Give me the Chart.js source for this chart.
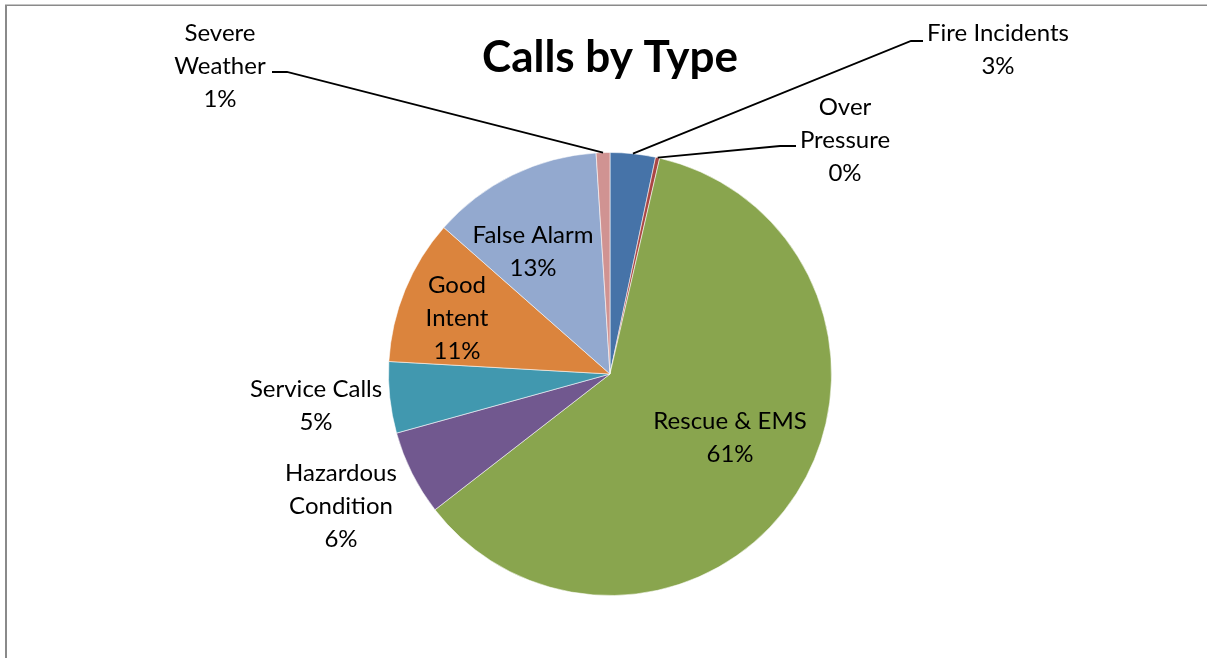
<!DOCTYPE html>
<html>
<head>
<meta charset="utf-8">
<script src="https://cdn.jsdelivr.net/npm/chart.js@4/dist/chart.umd.min.js"></script>
<style>
  html, body { margin: 0; padding: 0; background: #fff; }
  #wrap { width: 1207px; height: 658px; position: relative; }
</style>
</head>
<body>
<div id="wrap"><canvas id="c" width="1207" height="658"></canvas></div>
<script>
const title = 'Calls by Type';
const categories = ['Fire Incidents', 'Over Pressure', 'Rescue & EMS', 'Hazardous Condition', 'Service Calls', 'Good Intent', 'False Alarm', 'Severe Weather'];
const labelLines = [['Fire Incidents'], ['Over', 'Pressure'], ['Rescue & EMS'], ['Hazardous', 'Condition'], ['Service Calls'], ['Good', 'Intent'], ['False Alarm'], ['Severe', 'Weather']];
const values = [3.3, 0.3, 60.9, 6.2, 5.2, 10.6, 12.5, 1.0];
const colors = ['#4673A8', '#AA4643', '#89A54E', '#71588F', '#4198AF', '#DB843D', '#93A9CF', '#D09392'];

// label layout: block center relative to pie center (px), optional leader line knee/end
const labelLayout = [
  { dx: 388, dy: -325.5, leader: { knee: [301, -333], end: [313, -333] } },
  { dx: 235, dy: -235, leader: { knee: [170, -228], end: [186, -228] } },
  { dx: 120, dy: 62.5 },
  { dx: -269, dy: 131 },
  { dx: -294, dy: 30.5 },
  { dx: -153, dy: -57 },
  { dx: -77, dy: -123.5 },
  { dx: -390, dy: -309, leader: { knee: [-323, -302], end: [-338, -302] } }
];

const FONT = 'Lato, "Open Sans", sans-serif';
const LINE_H = 33;

const labelPlugin = {
  id: 'labels',
  beforeDraw(chart) {
    const ctx = chart.ctx;
    ctx.save();
    ctx.fillStyle = '#fff';
    ctx.fillRect(0, 0, chart.width, chart.height);
    ctx.strokeStyle = '#8a8a8a';
    ctx.lineWidth = 2;
    ctx.beginPath();
    ctx.moveTo(6, 5); ctx.lineTo(6, chart.height);
    ctx.stroke();
    ctx.lineWidth = 1.5;
    ctx.beginPath();
    ctx.moveTo(5, 5.25); ctx.lineTo(chart.width, 5.25);
    ctx.stroke();
    ctx.restore();
  },
  afterDatasetsDraw(chart) {
    const ctx = chart.ctx;
    const meta = chart.getDatasetMeta(0);
    const total = values.reduce((a, b) => a + b, 0);
    ctx.save();
    ctx.fillStyle = '#000';
    ctx.font = 'bold 44px ' + FONT;
    ctx.textAlign = 'center';
    ctx.textBaseline = 'alphabetic';
    const arc0 = meta.data[0];
    const cx = arc0.x, cy = arc0.y;
    ctx.fillText(title, cx, 72);

    ctx.font = '24px ' + FONT;
    meta.data.forEach((arc, i) => {
      const lay = labelLayout[i];
      const pct = Math.round(values[i] / total * 100) + '%';
      const lines = labelLines[i].concat([pct]);
      const bx = cx + lay.dx, by = cy + lay.dy;
      const top = by - (lines.length - 1) * LINE_H / 2;
      lines.forEach((t, k) => {
        ctx.fillText(t, bx, top + k * LINE_H + 8.5);
      });
      if (lay.leader) {
        const mid = (arc.startAngle + arc.endAngle) / 2;
        const r = arc.outerRadius;
        const sx = cx + Math.cos(mid) * r, sy = cy + Math.sin(mid) * r;
        ctx.strokeStyle = '#000';
        ctx.lineWidth = 1.8;
        ctx.beginPath();
        ctx.moveTo(sx, sy);
        ctx.lineTo(cx + lay.leader.knee[0], cy + lay.leader.knee[1]);
        ctx.lineTo(cx + lay.leader.end[0], cy + lay.leader.end[1]);
        ctx.stroke();
      }
    });
    ctx.restore();
  }
};

new Chart(document.getElementById('c'), {
  type: 'pie',
  data: {
    labels: categories,
    datasets: [{
      data: values,
      backgroundColor: colors,
      borderColor: 'rgba(255,255,255,0.55)',
      borderWidth: 1
    }]
  },
  options: {
    responsive: false,
    animation: false,
    layout: { padding: { left: 213, right: 200, top: 152, bottom: 62 } },
    plugins: {
      legend: { display: false },
      tooltip: { enabled: false },
      title: { display: false }
    }
  },
  plugins: [labelPlugin]
});
</script>
</body>
</html>
